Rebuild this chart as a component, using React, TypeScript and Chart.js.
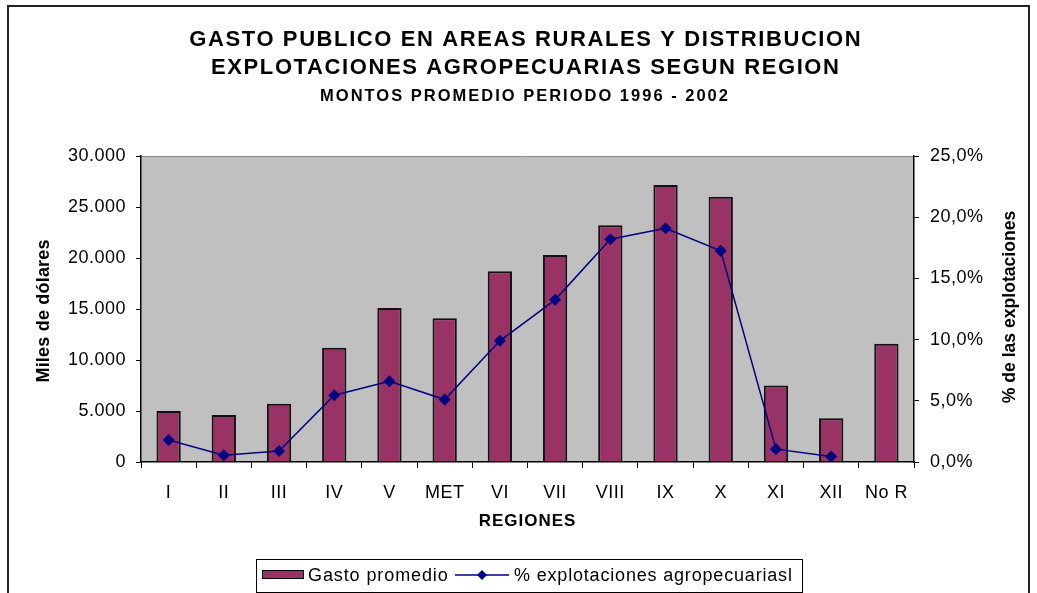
import React, { useEffect, useRef } from "react";
import { Chart, registerables } from "chart.js";

Chart.register(...registerables);

const FONT = '"Liberation Sans", Arial, Helvetica, sans-serif';

const titleLines = [
  "GASTO PUBLICO EN AREAS RURALES Y DISTRIBUCION",
  "EXPLOTACIONES AGROPECUARIAS SEGUN REGION",
];
const subtitle = "MONTOS PROMEDIO PERIODO 1996 - 2002";
const xAxisTitle = "REGIONES";
const yAxisTitle = "Miles de dólares";
const y2AxisTitle = "% de las explotaciones";

const regions = ["I", "II", "III", "IV", "V", "MET", "VI", "VII", "VIII", "IX", "X", "XI", "XII", "No R"];
const gastoPromedio = [5000, 4600, 5700, 11200, 15100, 14100, 18700, 20300, 23200, 27150, 26000, 7500, 4300, 11600];
const pctExplotaciones: (number | null)[] = [1.8, 0.55, 0.9, 5.45, 6.6, 5.1, 9.9, 13.25, 18.2, 19.1, 17.25, 1.05, 0.45, null];

const barLabel = "Gasto promedio";
const lineLabel = "% explotaciones agropecuariasl";

const leftMax = 30000;
const leftStep = 5000;
const rightMax = 25;
const rightStep = 5;

const barColor = "#993366";
const lineColor = "#000080";
const plotBg = "#C0C0C0";

function fmtThousands(v: number): string {
  return String(Math.round(v)).replace(/\B(?=(\d{3})+(?!\d))/g, ".");
}
function fmtPct(v: number): string {
  return v.toFixed(1).replace(".", ",") + "%";
}

function drawSpaced(
  ctx: CanvasRenderingContext2D,
  text: string,
  x: number,
  y: number,
  font: string,
  spacing: number,
  rotate = 0,
  align: "center" | "left" = "center"
) {
  ctx.save();
  ctx.font = font;
  (ctx as any).letterSpacing = spacing + "px";
  ctx.textBaseline = "middle";
  ctx.textAlign = "left";
  ctx.fillStyle = "#000";
  const w = ctx.measureText(text).width - spacing;
  ctx.translate(x, y);
  if (rotate) ctx.rotate(rotate);
  const x0 = align === "center" ? -w / 2 : 0;
  ctx.fillText(text, x0, 0);
  ctx.restore();
}

const decorPlugin = {
  id: "decor",
  beforeDraw(chart: any) {
    const ctx: CanvasRenderingContext2D = chart.ctx;
    const a = chart.chartArea;
    ctx.save();
    ctx.fillStyle = "#fff";
    ctx.fillRect(0, 0, chart.width, chart.height);
    ctx.fillStyle = plotBg;
    ctx.fillRect(a.left, a.top, a.right - a.left, a.bottom - a.top);
    ctx.strokeStyle = "#8a8a8a";
    ctx.lineWidth = 1;
    ctx.beginPath();
    ctx.moveTo(a.left, a.top + 0.5);
    ctx.lineTo(a.right, a.top + 0.5);
    ctx.stroke();
    // outer frame
    ctx.strokeStyle = "#222";
    ctx.lineWidth = 2;
    ctx.strokeRect(8, 6, 1021, 700);
    ctx.restore();
    (ctx as any).letterSpacing = "0.5px";
  },
  afterDraw(chart: any) {
    const ctx: CanvasRenderingContext2D = chart.ctx;
    (ctx as any).letterSpacing = "0px";
    // titles
    drawSpaced(ctx, titleLines[0], 525, 40, `bold 22px ${FONT}`, 1.6);
    drawSpaced(ctx, titleLines[1], 525, 68, `bold 22px ${FONT}`, 1.6);
    drawSpaced(ctx, subtitle, 524, 96, `bold 16.5px ${FONT}`, 2.0);
    // axis titles
    drawSpaced(ctx, yAxisTitle, 44, 311, `bold 18px ${FONT}`, 0.2, -Math.PI / 2);
    drawSpaced(ctx, y2AxisTitle, 1010, 307, `bold 17.6px ${FONT}`, 0, -Math.PI / 2);
    drawSpaced(ctx, xAxisTitle, 527, 521, `bold 17px ${FONT}`, 1);

    // legend
    const ds = chart.data.datasets;
    ctx.save();
    ctx.strokeStyle = "#000";
    ctx.lineWidth = 1;
    ctx.strokeRect(256.5, 559.5, 546, 33);
    ctx.fillStyle = ds[0].backgroundColor;
    ctx.fillRect(262, 570, 42, 9);
    ctx.strokeRect(262.5, 570.5, 41, 8);
    ctx.strokeStyle = ds[1].borderColor;
    ctx.lineWidth = 1.5;
    ctx.beginPath();
    ctx.moveTo(455, 575);
    ctx.lineTo(509, 575);
    ctx.stroke();
    ctx.fillStyle = ds[1].borderColor;
    ctx.beginPath();
    ctx.moveTo(482, 570);
    ctx.lineTo(487, 575);
    ctx.lineTo(482, 580);
    ctx.lineTo(477, 575);
    ctx.closePath();
    ctx.fill();
    ctx.restore();
    drawSpaced(ctx, ds[0].label, 308, 576, `18px ${FONT}`, 0.9, 0, "left");
    drawSpaced(ctx, ds[1].label, 514, 576, `18px ${FONT}`, 0.82, 0, "left");
  },
};

export default function App() {
  const ref = useRef<HTMLCanvasElement | null>(null);
  useEffect(() => {
    if (!ref.current) return;
    const tickFont = { family: FONT, size: 18 };
    const chart = new Chart(ref.current, {
      data: {
        labels: regions,
        datasets: [
          {
            type: "bar",
            label: barLabel,
            data: gastoPromedio,
            backgroundColor: barColor,
            borderColor: "#111",
            borderWidth: 2,
            barPercentage: 0.44,
            categoryPercentage: 1,
            yAxisID: "y",
            order: 2,
          },
          {
            type: "line",
            label: lineLabel,
            data: pctExplotaciones,
            borderColor: lineColor,
            backgroundColor: lineColor,
            borderWidth: 1.5,
            pointStyle: "rectRot",
            pointRadius: 5,
            pointBackgroundColor: lineColor,
            pointBorderColor: lineColor,
            tension: 0,
            spanGaps: false,
            yAxisID: "y1",
            order: 1,
          },
        ] as any,
      },
      options: {
        animation: false,
        responsive: true,
        maintainAspectRatio: false,
        events: [],
        layout: { padding: { top: 156, left: 0, right: 0, bottom: 0 } },
        plugins: {
          legend: { display: false },
          title: { display: false },
          tooltip: { enabled: false },
        },
        scales: {
          x: {
            type: "category",
            offset: true,
            grid: { display: true, drawOnChartArea: false, drawTicks: true, tickLength: 6, color: "#000", offset: true },
            border: { display: true, color: "#000", width: 1.5 },
            ticks: { font: tickFont, color: "#000", padding: 14, maxRotation: 0, autoSkip: false },
            afterFit: (s: any) => { s.height = 131; },
          },
          y: {
            type: "linear",
            position: "left",
            min: 0,
            max: leftMax,
            grid: { display: true, drawOnChartArea: false, drawTicks: true, tickLength: 5, color: "#000" },
            border: { display: true, color: "#000", width: 1.5 },
            ticks: { stepSize: leftStep, font: tickFont, color: "#000", padding: 10, callback: (v: any) => fmtThousands(Number(v)) },
            afterFit: (s: any) => { s.width = 141; },
          },
          y1: {
            type: "linear",
            position: "right",
            min: 0,
            max: rightMax,
            grid: { display: true, drawOnChartArea: false, drawTicks: true, tickLength: 5, color: "#000" },
            border: { display: true, color: "#000", width: 1.5 },
            ticks: { stepSize: rightStep, font: tickFont, color: "#000", padding: 11, callback: (v: any) => fmtPct(Number(v)) },
            afterFit: (s: any) => { s.width = 1037 - 914; },
          },
        },
      } as any,
      plugins: [decorPlugin],
    });
    return () => chart.destroy();
  }, []);
  return (
    <div style={{ position: "absolute", left: 0, top: 0, width: 1037, height: 593, background: "#fff" }}>
      <canvas ref={ref} />
    </div>
  );
}
